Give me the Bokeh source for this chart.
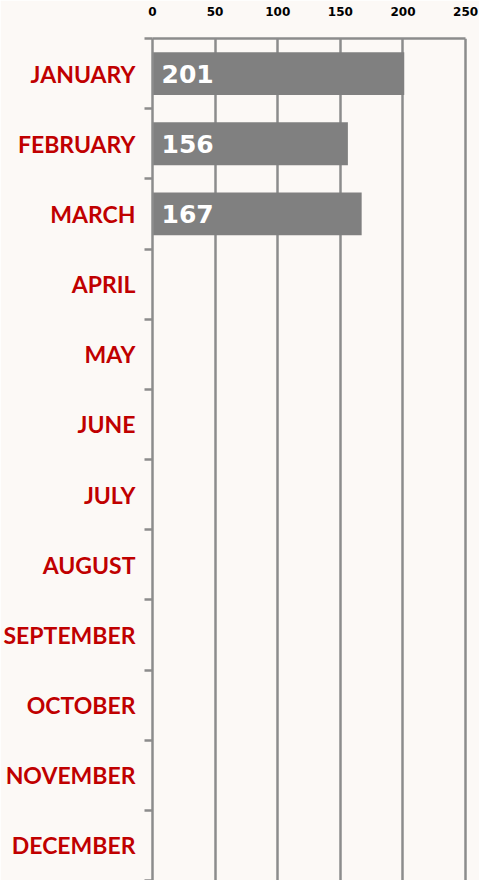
from bokeh.plotting import figure
from bokeh.models import Range1d, FixedTicker
from bokeh.core.properties import value
from bokeh.embed import file_html
from bokeh.resources import INLINE

months = ["JANUARY", "FEBRUARY", "MARCH", "APRIL", "MAY", "JUNE", "JULY",
          "AUGUST", "SEPTEMBER", "OCTOBER", "NOVEMBER", "DECEMBER"]
values = [201, 156, 167]
x_ticks = [0, 50, 100, 150, 200, 250]

BG = "#fcf9f6"
GRID = "#8c8c8c"
RED = "#c00000"

centers = [i + 0.5 for i in range(len(months))]
bounds = [i for i in range(len(months) + 1)]

p = figure(width=479, height=880, output_backend="svg", toolbar_location=None,
           x_range=Range1d(0, 251.5), y_range=Range1d(len(months), 0),
           x_axis_location="above",
           min_border_left=151, min_border_right=12, min_border_top=38, min_border_bottom=0)
p.background_fill_color = BG
p.border_fill_color = BG
p.outline_line_color = None

# bars
p.hbar(y=centers[:len(values)], left=0, right=values, height=0.61,
       fill_color="#808080", line_color=None)
p.text(x=[0] * len(values), y=centers[:len(values)], text=[str(v) for v in values],
       x_offset=9, text_baseline="middle", text_align="left",
       text_color="white", text_font_style="bold", text_font_size="25px",
       text_font=value("DejaVu Sans"))

# x axis (top)
xa = p.xaxis[0]
xa.ticker = FixedTicker(ticks=x_ticks)
xa.bounds = (0, 250)
xa.axis_line_color = GRID
xa.axis_line_width = 2.5
xa.major_tick_line_color = None
xa.minor_tick_line_color = None
xa.major_label_text_font = "DejaVu Sans"
xa.major_label_text_font_style = "bold"
xa.major_label_text_font_size = "12px"
xa.major_label_text_color = "#000000"
xa.major_label_standoff = 17

# y axis (left)
ya = p.yaxis[0]
ya.ticker = FixedTicker(ticks=centers, minor_ticks=bounds)
ya.major_label_overrides = {c: m for c, m in zip(centers, months)}
ya.axis_line_color = GRID
ya.axis_line_width = 2.5
ya.major_tick_line_color = None
ya.minor_tick_line_color = GRID
ya.minor_tick_line_width = 2.5
ya.minor_tick_out = 8
ya.minor_tick_in = 0
ya.major_label_text_font = "Lato"
ya.major_label_text_font_style = "bold"
ya.major_label_text_font_size = "23px"
ya.major_label_text_color = RED
ya.major_label_standoff = 9

p.xgrid.ticker = FixedTicker(ticks=x_ticks)
p.xgrid.grid_line_color = GRID
p.xgrid.grid_line_width = 2.5
p.ygrid.grid_line_color = None

html = file_html(p, INLINE)
html = html.replace("<body>", '<body style="background:%s;margin:0;padding:0">' % BG, 1)
open("out.html", "w").write(html)
